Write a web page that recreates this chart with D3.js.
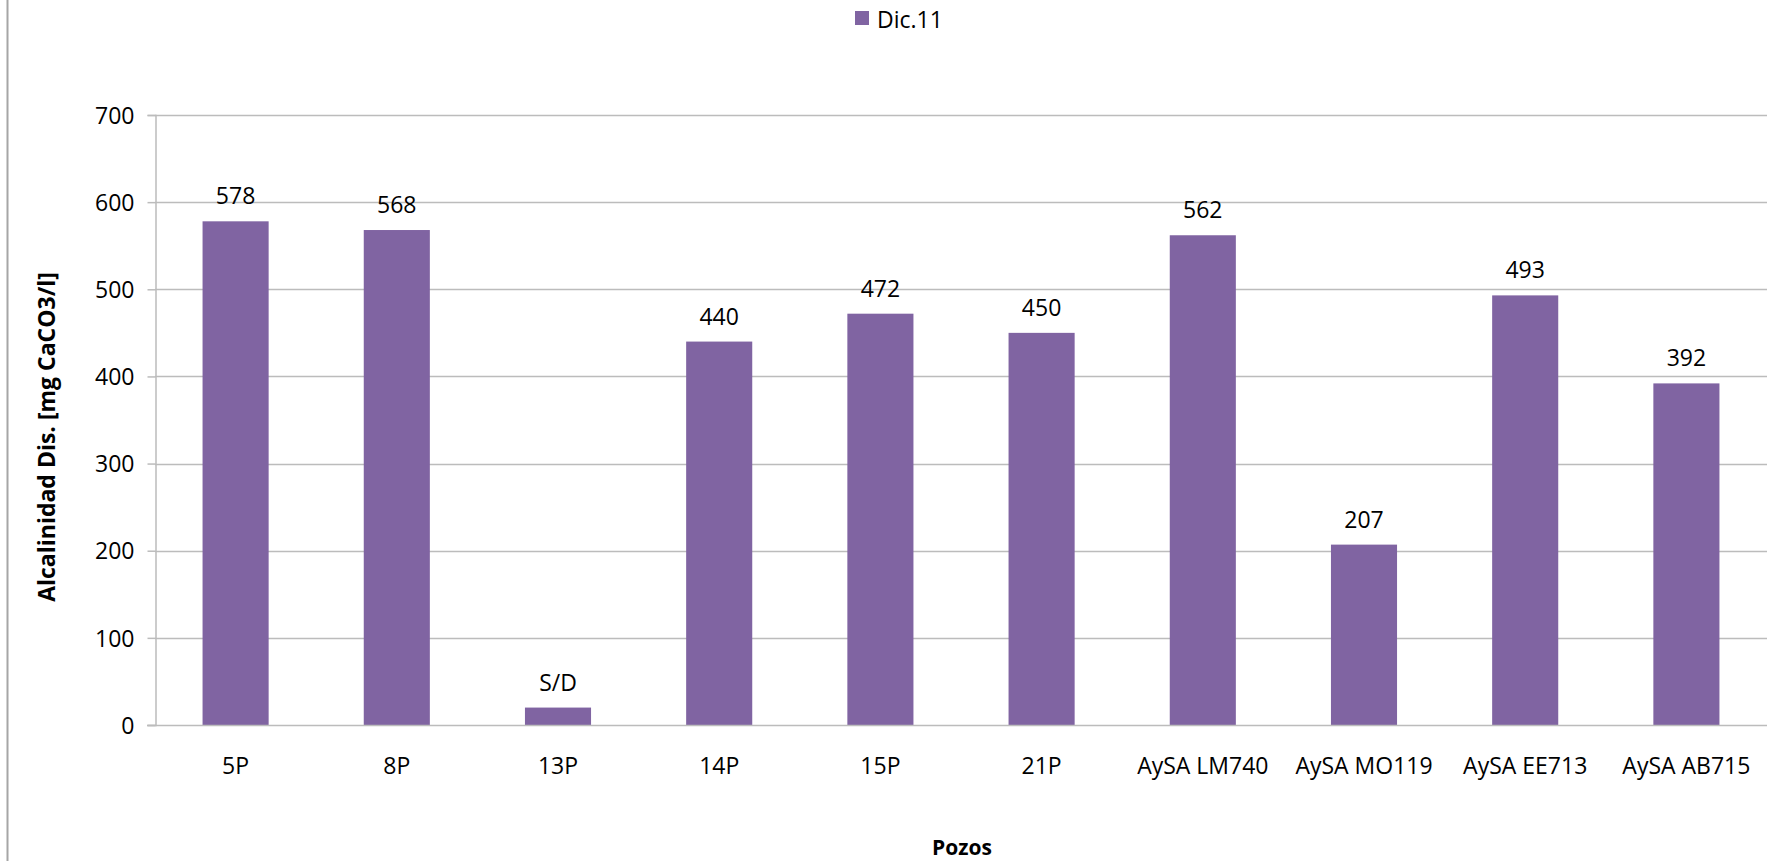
<!DOCTYPE html>
<html>
<head>
<meta charset="utf-8">
<script src="https://cdn.jsdelivr.net/npm/d3@7"></script>
<style>
  html, body { margin: 0; padding: 0; background: #fff; }
  svg { display: block; }
  text { font-family: "Open Sans", sans-serif; fill: #000; }
</style>
</head>
<body>
<svg id="chart" width="1767" height="861"></svg>
<script>
const categories = ["5P", "8P", "13P", "14P", "15P", "21P", "AySA LM740", "AySA MO119", "AySA EE713", "AySA AB715"];
const values = [578, 568, 20, 440, 472, 450, 562, 207, 493, 392];
const labels = ["578", "568", "S/D", "440", "472", "450", "562", "207", "493", "392"];
const yTicks = [0, 100, 200, 300, 400, 500, 600, 700];
const seriesName = "Dic.11";
const yTitle = "Alcalinidad Dis. [mg CaCO3/l]";
const xTitle = "Pozos";

(function () {
const W = 1767, H = 861;
const pLeft = 155, pRight = 1767, pTop = 115, pBottom = 725;
const color = "#8064a2";
const gridColor = "#bcbcbc";

const svg = d3.select("#chart");

// outer frame line on the left
svg.append("line").attr("x1", 7.5).attr("x2", 7.5).attr("y1", 0).attr("y2", H)
  .attr("stroke", "#a6a6a6").attr("stroke-width", 2);

const x = d3.scaleBand().domain(categories).range([pLeft, pRight])
  .paddingInner(0.59).paddingOuter(0.295);
const y = d3.scaleLinear().domain([0, 700]).range([pBottom, pTop]);

// gridlines
svg.append("g").selectAll("line").data(yTicks.filter(d => d > 0)).join("line")
  .attr("x1", pLeft).attr("x2", pRight)
  .attr("y1", d => Math.round(y(d)) + 0.5).attr("y2", d => Math.round(y(d)) + 0.5)
  .attr("stroke", gridColor).attr("stroke-width", 1.5);

// y axis
const yAxis = svg.append("g").attr("transform", `translate(${pLeft + 0.5},0)`)
  .call(d3.axisLeft(y).tickValues(yTicks).tickSize(8).tickPadding(13).tickFormat(d3.format("d")));
yAxis.select(".domain").attr("stroke", gridColor).attr("stroke-width", 1.5);
yAxis.selectAll(".tick line").attr("stroke", gridColor).attr("stroke-width", 1.5);
yAxis.selectAll(".tick text").attr("font-size", 23).attr("font-family", "Open Sans").attr("fill", "#000").attr("dy", "0.36em");

// bars
svg.append("g").selectAll("rect").data(values).join("rect")
  .attr("x", (d, i) => x(categories[i]))
  .attr("width", x.bandwidth())
  .attr("y", d => y(d))
  .attr("height", d => pBottom - y(d))
  .attr("fill", color);

// x axis line
svg.append("line").attr("x1", pLeft - 8).attr("x2", pRight)
  .attr("y1", pBottom + 0.5).attr("y2", pBottom + 0.5)
  .attr("stroke", gridColor).attr("stroke-width", 1.5);

// x labels
const xAxis = svg.append("g").attr("transform", `translate(0,${pBottom})`)
  .call(d3.axisBottom(x).tickSize(0).tickPadding(0));
xAxis.select(".domain").remove();
xAxis.selectAll(".tick text").attr("font-size", 23).attr("font-family", "Open Sans").attr("fill", "#000")
  .attr("y", 49).attr("dy", 0);

// data labels
svg.append("g").selectAll("text").data(values).join("text")
  .attr("x", (d, i) => x(categories[i]) + x.bandwidth() / 2)
  .attr("y", d => y(d) - 17)
  .attr("text-anchor", "middle")
  .attr("font-size", 23)
  .text((d, i) => labels[i]);

// axis titles
svg.append("text")
  .attr("transform", `translate(55,437) rotate(-90)`)
  .attr("text-anchor", "middle").attr("font-size", 23).attr("font-weight", "bold")
  .text(yTitle);
svg.append("text")
  .attr("x", 962).attr("y", 855)
  .attr("text-anchor", "middle").attr("font-size", 21).attr("font-weight", "bold")
  .text(xTitle);

// legend
const lg = svg.append("g");
lg.append("rect").attr("x", 855).attr("y", 11).attr("width", 14).attr("height", 14).attr("fill", color);
lg.append("text").attr("x", 877).attr("y", 28).attr("font-size", 23).text(seriesName);
})();
</script>
</body>
</html>
